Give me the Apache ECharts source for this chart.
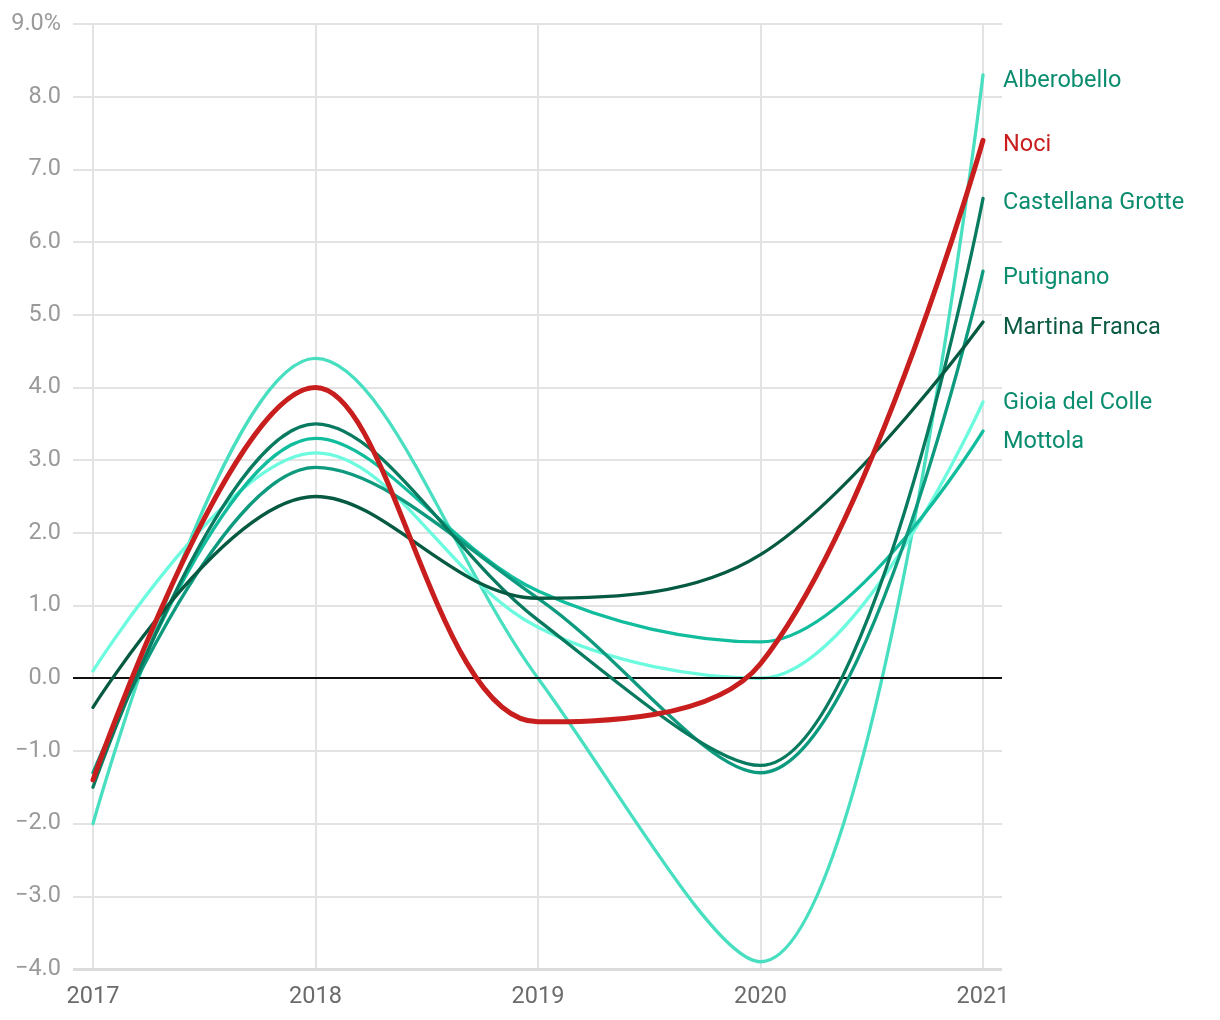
<!DOCTYPE html>
<html>
<head>
<meta charset="utf-8">
<script src="https://cdn.jsdelivr.net/npm/echarts@6/dist/echarts.min.js"></script>
<style>
html,body{margin:0;padding:0;background:#fff;}
#chart{width:1220px;height:1020px;}
</style>
</head>
<body>
<div id="chart"></div>
<script>
var years = ['2017', '2018', '2019', '2020', '2021'];
var yTicks = [-4, -3, -2, -1, 0, 1, 2, 3, 4, 5, 6, 7, 8, 9];

var alberobello = [-2.0, 4.4, 0.0, -3.9, 8.3];
var noci = [-1.4, 4.0, -0.6, 0.2, 7.4];
var castellanaGrotte = [-1.5, 3.5, 0.8, -1.2, 6.6];
var putignano = [-1.3, 2.9, 1.1, -1.3, 5.6];
var martinaFranca = [-0.4, 2.5, 1.1, 1.7, 4.9];
var gioiaDelColle = [0.1, 3.1, 0.7, 0.0, 3.8];
var mottola = [-1.4, 3.3, 1.2, 0.5, 3.4];

var FONT = 'Roboto';
var TEAL_LABEL = '#0a8c6e';
var SMOOTH = 0.36;

function mk(name, data, color, labelColor, width, dy, z) {
  return {
    name: name,
    type: 'line',
    data: data,
    xAxisIndex: 0,
    yAxisIndex: 0,
    smooth: SMOOTH,
    symbol: 'none',
    z: z,
    lineStyle: { color: color, width: width, cap: 'round' },
    itemStyle: { color: color },
    endLabel: {
      show: true,
      formatter: '{a}',
      color: labelColor,
      fontFamily: FONT,
      fontSize: 23.5,
      distance: 20,
      offset: [0, dy]
    },
    emphasis: { disabled: true }
  };
}

var chart = echarts.init(document.getElementById('chart'), null, { renderer: 'canvas' });
chart.setOption({
  animation: false,
  backgroundColor: '#ffffff',
  textStyle: { fontFamily: FONT },
  grid: [
    { left: 93, right: 237, top: 24, bottom: 51 },
    { left: 73, right: 218, top: 24, bottom: 51 }
  ],
  xAxis: [
    {
      type: 'category', gridIndex: 0, data: years, boundaryGap: false,
      axisLine: { show: false }, axisTick: { show: false },
      axisLabel: { color: '#6b6b6b', fontSize: 23.5, fontFamily: FONT, margin: 16 },
      splitLine: { show: true, lineStyle: { color: '#e3e3e3', width: 2 } }
    },
    {
      type: 'value', gridIndex: 1, min: 0, max: 1, show: false
    }
  ],
  yAxis: [
    {
      type: 'value', gridIndex: 0, min: yTicks[0], max: yTicks[yTicks.length - 1], interval: 1,
      axisLine: { show: false }, axisTick: { show: false }, axisLabel: { show: false },
      splitLine: { show: false }
    },
    {
      type: 'value', gridIndex: 1, min: yTicks[0], max: yTicks[yTicks.length - 1], interval: 1,
      axisLine: { show: false }, axisTick: { show: false },
      axisLabel: {
        color: '#9a9a9a', fontSize: 23.5, fontFamily: FONT, margin: 12,
        formatter: function (v) {
          if (v === yTicks[yTicks.length - 1]) return v.toFixed(1) + '%';
          if (v < 0) return '\u2212' + Math.abs(v).toFixed(1);
          return v.toFixed(1);
        }
      },
      splitLine: { show: true, lineStyle: { color: '#e3e3e3', width: 2 } }
    }
  ],
  series: [
    {
      type: 'line', xAxisIndex: 1, yAxisIndex: 1, data: [], silent: true,
      markLine: {
        silent: true, symbol: 'none', animation: false,
        label: { show: false },
        lineStyle: { color: '#111111', width: 2, type: 'solid' },
        data: [{ yAxis: 0 }, { yAxis: yTicks[0], lineStyle: { color: '#dcdcdc', width: 3 } }]
      }
    },
    mk('Alberobello', alberobello, '#48dfc1', TEAL_LABEL, 3.3, 6, 2),
    mk('Gioia del Colle', gioiaDelColle, '#6cfbdf', TEAL_LABEL, 3.3, 1, 3),
    mk('Mottola', mottola, '#12bd9d', TEAL_LABEL, 3.3, 11, 4),
    mk('Putignano', putignano, '#0e9a7e', TEAL_LABEL, 3.3, 7, 5),
    mk('Castellana Grotte', castellanaGrotte, '#087a5f', TEAL_LABEL, 3.3, 5, 6),
    mk('Martina Franca', martinaFranca, '#075a42', '#0b5a43', 3.3, 6, 7),
    mk('Noci', noci, '#c81e1e', '#c81e1e', 5, 5, 8)
  ]
});
</script>
</body>
</html>
